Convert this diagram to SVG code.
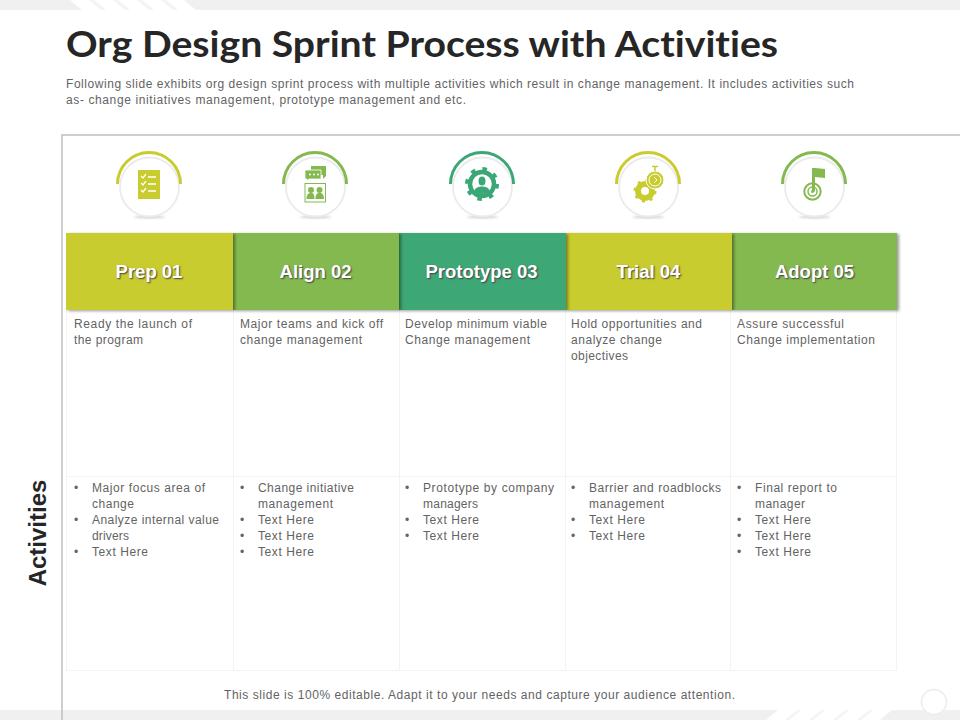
<svg xmlns="http://www.w3.org/2000/svg" width="960" height="720" viewBox="0 0 960 720">
<style>
text{font-family:"Liberation Sans",Arial,sans-serif}
.title{font-family:"Lato","Liberation Sans",sans-serif;font-weight:700;font-size:37px;fill:#262626;font-variant-ligatures:none}
.sub{font-size:12px;fill:#636363}
.b{font-size:12px;fill:#636363}
.h{font-size:18.500px;font-weight:700;fill:#fff;text-anchor:middle;text-shadow:1px 1px 1.500px #444}
.act{font-size:24px;font-weight:700;fill:#262626;text-anchor:middle}
.foot{font-size:12px;fill:#636363}
.ring{fill:#fff;stroke:#ebebeb;stroke-width:1.800}
.arc{fill:none;stroke-width:3}
.grid{stroke:#f3f3f3;stroke-width:1;fill:none}
.band{fill:#f0f0f0}
.lime{fill:#c8cc2f}.lg{fill:#84b94f}.tl{fill:#3ca776}
.slime{stroke:#c8cc2f}.slg{stroke:#84b94f}.stl{stroke:#3ca776}
</style>
<defs>
<filter id="sh" x="-10%" y="-10%" width="120%" height="120%"><feDropShadow dx="2" dy="1" stdDeviation="1.600" flood-color="#000" flood-opacity=".4"/></filter>
<filter id="bl" x="-30%" y="-200%" width="160%" height="500%"><feGaussianBlur stdDeviation="1"/></filter>
<g id="badge"><ellipse cx="0.500" cy="32" rx="16" ry="1.200" fill="#c8c8c8" filter="url(#bl)"/><circle cx="0.500" cy="2" r="29.500" class="ring"/></g>
</defs>
<rect width="960" height="720" fill="#fff"/>
<g id="decor">
<rect x="0" y="0" width="960" height="10" class="band"/>
<path d="M70 0H184L196 10H82Z" fill="#fff"/>
<path d="M89 0h5l12 10h-5zM113 0h5l12 10h-5zM137 0h5l12 10h-5zM161 0h5l12 10h-5z" fill="#f4f4f4"/>
<rect x="0" y="710" width="960" height="10" class="band"/>
<path d="M778 710H892L880 720H766Z" fill="#fff"/>
<path d="M785 720l12-10h4l-12 10zM809 720l12-10h4l-12 10zM833 720l12-10h4l-12 10zM857 720l12-10h4l-12 10z" fill="#f4f4f4"/>
<circle cx="934" cy="702" r="12.500" fill="#fff" stroke="#ececec" stroke-width="1.500"/>
</g>
<text class="title" x="66" y="57" textLength="712" lengthAdjust="spacingAndGlyphs">Org Design Sprint Process with Activities</text>
<text class="sub" x="66" y="88" textLength="788">Following slide exhibits org design sprint process with multiple activities which result in change management. It includes activities such</text>
<text class="sub" x="66" y="104" textLength="400">as- change initiatives management, prototype management and etc.</text>
<path id="frame" d="M62 720V135H960" fill="none" stroke="#bfbfbf" stroke-width="1.500"/>
<g id="grid" class="grid">
<path d="M66.500 310V670.500H896.500V310M233.500 310V670M399.500 310V670M565.500 310V670M730.500 310V670M66 476.500H896"/>
</g>
<g id="node-prep-icon" transform="translate(149 185)">
<use href="#badge"/><path d="M-31.500 -1A31.500 31.500 0 0 1 31.500 -1" class="arc slime"/>
<rect x="-11" y="-15" width="22" height="29" class="lime"/>
<path d="M-8-9l2 2 3-4M-8-2l2 2 3-4M-8 5l2 2 3-4M-1-8h8M-1-1h8M-1 6h8" fill="none" stroke="#fff" stroke-width="1.300"/>
</g>
<g id="node-align-icon" transform="translate(315 185)">
<use href="#badge"/><path d="M-31.500 -1A31.500 31.500 0 0 1 31.500 -1" class="arc slg"/>
<path d="M-4-19H11V-9L8-6V-10H-4Z" class="lg"/>
<path d="M-10-15H6V-6H-6L-8-4V-6H-10Z" class="lg" stroke="#fff" stroke-width=".8"/>
<circle cx="-5" cy="-10.500" r="1" fill="#fff"/><circle cx="-1" cy="-10.500" r="1" fill="#fff"/><circle cx="3" cy="-10.500" r="1" fill="#fff"/>
<rect x="-10" y="-1.500" width="20.500" height="18.500" fill="#fff" stroke="#84b94f" stroke-width="1"/>
<circle cx="-4" cy="5" r="3" class="lg"/><circle cx="4.500" cy="5" r="3" class="lg"/>
<path d="M-8.500 14c0-5 2-6 4.500-6S-.5 9-.5 14zM.5 14c0-5 1.500-6 4-6S9 9 9 14z" class="lg"/>
</g>
<g id="node-prototype-icon" transform="translate(482 185)">
<use href="#badge"/><path d="M-31.500 -1A31.500 31.500 0 0 1 31.500 -1" class="arc stl"/>
<g transform="translate(0 -1)">
<circle cx="0" cy="0" r="12" fill="none" stroke="#3ca776" stroke-width="4.500"/>
<circle cx="0" cy="0" r="15" fill="none" stroke="#3ca776" stroke-width="4" stroke-dasharray="4.500 7.280"/>
<ellipse cx="0" cy="-3" rx="3.500" ry="4.500" class="tl"/>
<path d="M-8 8C-7 3-3 2.500 0 2.500S7 3 8 8C4 10.500-4 10.500-8 8Z" class="tl"/>
</g>
</g>
<g id="node-trial-icon" transform="translate(648 185)">
<use href="#badge"/><path d="M-31.500 -1A31.500 31.500 0 0 1 31.500 -1" class="arc slime"/>
<circle cx="-3" cy="6" r="7" fill="none" stroke="#c8cc2f" stroke-width="6"/>
<circle cx="-3" cy="6" r="10" fill="none" stroke="#c8cc2f" stroke-width="3" stroke-dasharray="3 4.850"/>
<circle cx="7" cy="-5" r="9" class="lime" stroke="#fff" stroke-width="1"/>
<circle cx="7" cy="-5" r="6" fill="none" stroke="#fff" stroke-width="1"/>
<path d="M6-8l3 3-3 3" fill="none" stroke="#fff" stroke-width="1"/>
<path d="M4-18.500H10" stroke="#c8cc2f" stroke-width="1.500"/>
<path d="M7-18V-14" stroke="#c8cc2f" stroke-width="1.500"/>
</g>
<g id="node-adopt-icon" transform="translate(814 185)">
<use href="#badge"/><path d="M-31.500 -1A31.500 31.500 0 0 1 31.500 -1" class="arc slg"/>
<circle cx="-1.500" cy="6.500" r="8.200" fill="none" stroke="#84b94f" stroke-width="2"/>
<circle cx="-1.500" cy="6.500" r="4.500" fill="none" stroke="#84b94f" stroke-width="1.500"/>
<circle cx="-1.500" cy="6.500" r="1.500" class="lg"/>
<path d="M-2-17H1V6.500H-2Z" class="lg"/>
<path d="M1-17L11-16V-7L1-8Z" class="lg"/>
</g>
<g id="node-adopt-header"><rect x="732" y="233" width="165" height="77" class="lg" filter="url(#sh)"/><text class="h" x="814.500" y="278">Adopt 05</text></g>
<g id="node-trial-header"><rect x="566" y="233" width="166" height="77" class="lime" filter="url(#sh)"/><text class="h" x="648.500" y="278">Trial 04</text></g>
<g id="node-prototype-header"><rect x="399" y="233" width="167" height="77" class="tl" filter="url(#sh)"/><text class="h" x="481.500" y="278">Prototype 03</text></g>
<g id="node-align-header"><rect x="233" y="233" width="166" height="77" class="lg" filter="url(#sh)"/><text class="h" x="315.500" y="278">Align 02</text></g>
<g id="node-prep-header"><rect x="66" y="233" width="167" height="77" class="lime" filter="url(#sh)"/><text class="h" x="149" y="278">Prep 01</text></g>
<g id="row-intro">
<text class="b" x="74" y="328" textLength="118">Ready the launch of</text>
<text class="b" x="74" y="344" textLength="69">the program</text>
<text class="b" x="240" y="328" textLength="143">Major teams and kick off</text>
<text class="b" x="240" y="344" textLength="122">change management</text>
<text class="b" x="405" y="328" textLength="142">Develop  minimum viable</text>
<text class="b" x="405" y="344" textLength="125">Change  management</text>
<text class="b" x="571" y="328" textLength="131">Hold opportunities and</text>
<text class="b" x="571" y="344" textLength="91">analyze change</text>
<text class="b" x="571" y="360" textLength="57">objectives</text>
<text class="b" x="737" y="328" textLength="107">Assure successful</text>
<text class="b" x="737" y="344" textLength="138">Change implementation</text>
</g>
<g id="row-activities">
<text class="b" x="74" y="492">•</text><text class="b" x="92" y="492" textLength="113">Major focus area of</text>
<text class="b" x="92" y="508" textLength="42">change</text>
<text class="b" x="74" y="524">•</text><text class="b" x="92" y="524" textLength="127">Analyze internal value</text>
<text class="b" x="92" y="540" textLength="37">drivers</text>
<text class="b" x="74" y="556">•</text><text class="b" x="92" y="556" textLength="56">Text Here</text>
<text class="b" x="240" y="492">•</text><text class="b" x="258" y="492" textLength="96">Change initiative</text>
<text class="b" x="258" y="508" textLength="75">management</text>
<text class="b" x="240" y="524">•</text><text class="b" x="258" y="524" textLength="56">Text Here</text>
<text class="b" x="240" y="540">•</text><text class="b" x="258" y="540" textLength="56">Text Here</text>
<text class="b" x="240" y="556">•</text><text class="b" x="258" y="556" textLength="56">Text Here</text>
<text class="b" x="405" y="492">•</text><text class="b" x="423" y="492" textLength="131">Prototype by company</text>
<text class="b" x="423" y="508" textLength="55">managers</text>
<text class="b" x="405" y="524">•</text><text class="b" x="423" y="524" textLength="56">Text Here</text>
<text class="b" x="405" y="540">•</text><text class="b" x="423" y="540" textLength="56">Text Here</text>
<text class="b" x="571" y="492">•</text><text class="b" x="589" y="492" textLength="132">Barrier and roadblocks</text>
<text class="b" x="589" y="508" textLength="75">management</text>
<text class="b" x="571" y="524">•</text><text class="b" x="589" y="524" textLength="56">Text Here</text>
<text class="b" x="571" y="540">•</text><text class="b" x="589" y="540" textLength="56">Text Here</text>
<text class="b" x="737" y="492">•</text><text class="b" x="755" y="492" textLength="82">Final report to</text>
<text class="b" x="755" y="508" textLength="50">manager</text>
<text class="b" x="737" y="524">•</text><text class="b" x="755" y="524" textLength="56">Text Here</text>
<text class="b" x="737" y="540">•</text><text class="b" x="755" y="540" textLength="56">Text Here</text>
<text class="b" x="737" y="556">•</text><text class="b" x="755" y="556" textLength="56">Text Here</text>
</g>
<text class="act" transform="translate(46 533) rotate(-90)">Activities</text>
<text class="foot" x="224" y="699" textLength="511">This slide is 100% editable. Adapt it to your needs and capture your audience attention.</text>
<g id="connectors"/>
</svg>
